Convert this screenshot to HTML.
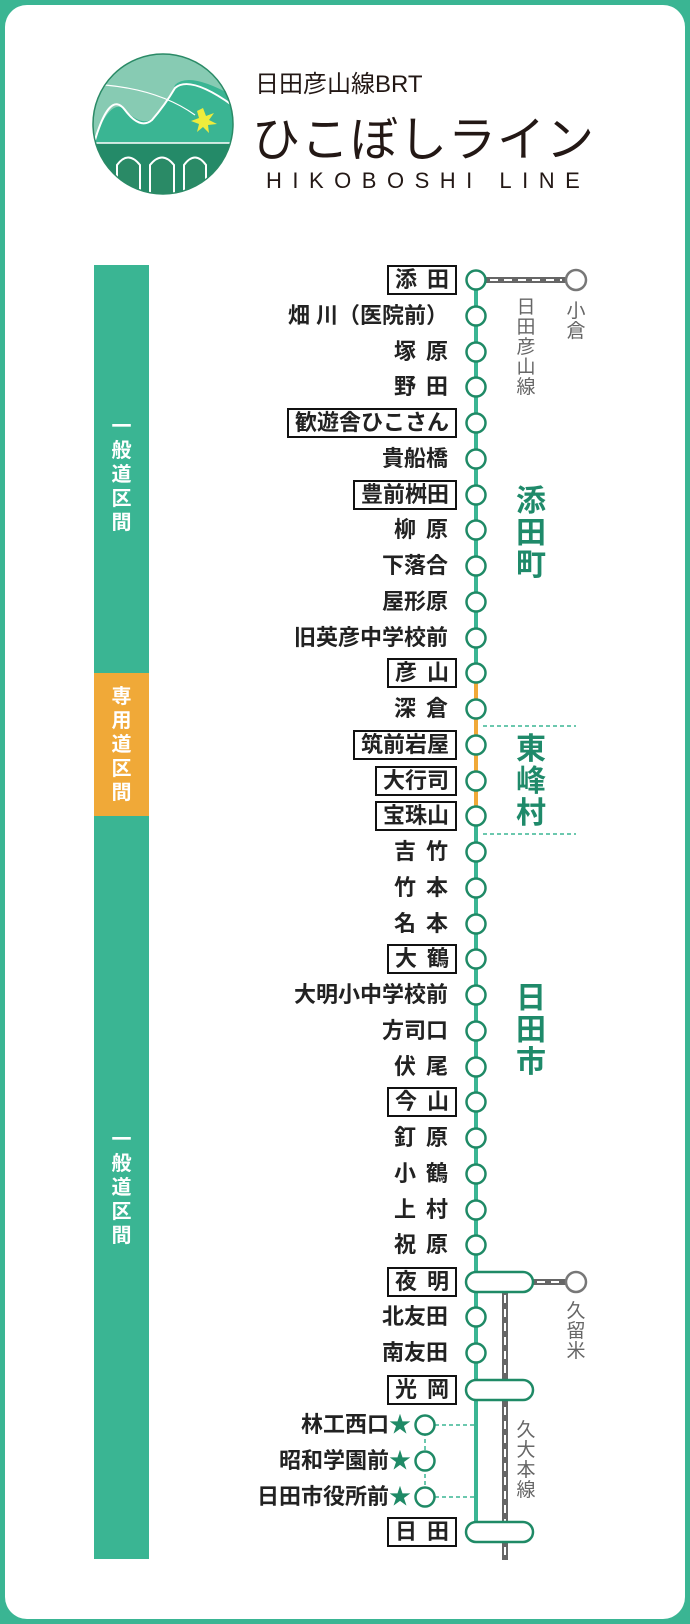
<!DOCTYPE html>
<html><head><meta charset="utf-8"><style>
*{margin:0;padding:0;box-sizing:border-box}
body{width:690px;height:1624px;background:#3ab593;position:relative;overflow:hidden;font-family:"Liberation Sans","Noto Sans CJK JP",sans-serif}
.card{position:absolute;left:5px;top:5px;width:680px;height:1614px;background:#fff;border-radius:22px}
.lbl{position:absolute;right:242px;height:30px;line-height:30px;font-size:22px;font-weight:bold;color:#222;white-space:nowrap;text-align:right}
.box{border:2px solid #111;padding:0 6px;line-height:26px;right:233px}
.sp{letter-spacing:10px;margin-right:-10px}
.area{position:absolute;color:#1f8a6a;font-size:30px;font-weight:bold;width:36px;line-height:32px;text-align:center}
.vg{position:absolute;color:#666;font-size:19px;width:22px;line-height:20px;text-align:center}
.bar{position:absolute;left:94px;width:55px;color:#fff;font-size:20px;font-weight:bold;text-align:center;line-height:24px}
</style></head><body>
<div class="card"></div>
<svg width="690" height="1624" style="position:absolute;left:0;top:0">
<defs><clipPath id="c"><circle cx="163" cy="124" r="70"/></clipPath></defs>
<g clip-path="url(#c)">
<rect x="90" y="50" width="150" height="150" fill="#87cbb3"/>
<path d="M90 150 Q110 95 125 110 Q140 125 150 120 Q165 110 175 85 Q190 70 240 100 L240 200 L90 200Z" fill="#3ab593"/>
<path d="M95 140 Q110 90 125 110 Q140 130 152 120 Q165 105 175 88 Q190 75 232 105" fill="none" stroke="#fff" stroke-width="2"/>
<path d="M105 85 Q160 90 195 115" fill="none" stroke="#fff" stroke-width="1.2"/>
<rect x="90" y="143" width="150" height="60" fill="#248a68"/>
<line x1="90" y1="143" x2="240" y2="143" stroke="#fff" stroke-width="1.5"/>
<path d="M117 200 V165 Q128 150 140 165 V200 M150 200 V165 Q162 150 174 165 V200 M184 200 V165 Q195 150 206 165 V200" fill="#2a8a66" stroke="#fff" stroke-width="2"/>
</g>
<circle cx="163" cy="124" r="70" fill="none" stroke="#2a8a66" stroke-width="1.5"/>
<polygon points="203,108 206,116 214,113 209,120 217,124 208,125 209,133 203,127 197,132 199,124 191,121 199,118 197,111" fill="#eeec3c"/>
<line x1="476" y1="280" x2="476" y2="673" stroke="#3ab593" stroke-width="4"/>
<line x1="476" y1="673" x2="476" y2="815" stroke="#f0a938" stroke-width="4"/>
<line x1="476" y1="815" x2="476" y2="1532" stroke="#3ab593" stroke-width="4"/>
<line x1="505" y1="1292" x2="505" y2="1560" stroke="#666" stroke-width="6"/>
<line x1="505" y1="1295" x2="505" y2="1557" stroke="#fff" stroke-width="2" stroke-dasharray="8,6"/>
<line x1="486" y1="280" x2="566" y2="280" stroke="#666" stroke-width="6"/>
<line x1="490" y1="280" x2="562" y2="280" stroke="#fff" stroke-width="2" stroke-dasharray="8,6"/>
<circle cx="576" cy="280" r="10" fill="#fff" stroke="#777" stroke-width="2.5"/>
<line x1="533" y1="1282" x2="566" y2="1282" stroke="#666" stroke-width="6"/>
<line x1="537" y1="1282" x2="562" y2="1282" stroke="#fff" stroke-width="2" stroke-dasharray="8,6"/>
<circle cx="576" cy="1282" r="10" fill="#fff" stroke="#777" stroke-width="2.5"/>
<line x1="483" y1="726" x2="576" y2="726" stroke="#3ab593" stroke-width="1.5" stroke-dasharray="4,3"/>
<line x1="483" y1="834" x2="576" y2="834" stroke="#3ab593" stroke-width="1.5" stroke-dasharray="4,3"/>
<line x1="435" y1="1425" x2="474" y2="1425" stroke="#3ab593" stroke-width="1.5" stroke-dasharray="4,3"/>
<line x1="435" y1="1497" x2="474" y2="1497" stroke="#3ab593" stroke-width="1.5" stroke-dasharray="4,3"/>
<line x1="425" y1="1425" x2="425" y2="1497" stroke="#3ab593" stroke-width="1.5" stroke-dasharray="4,3"/>
<g fill="#fff" stroke="#1f8a66" stroke-width="2.5">
<circle cx="425" cy="1425" r="9.5"/><circle cx="425" cy="1461" r="9.5"/><circle cx="425" cy="1497" r="9.5"/>
<rect x="466" y="1272" width="67" height="20" rx="10"/>
<rect x="466" y="1380" width="67" height="20" rx="10"/>
<rect x="466" y="1522" width="67" height="20" rx="10"/>
<circle cx="476" cy="280" r="9.5"/><circle cx="476" cy="316" r="9.5"/><circle cx="476" cy="352" r="9.5"/><circle cx="476" cy="387" r="9.5"/><circle cx="476" cy="423" r="9.5"/><circle cx="476" cy="459" r="9.5"/><circle cx="476" cy="495" r="9.5"/><circle cx="476" cy="530" r="9.5"/><circle cx="476" cy="566" r="9.5"/><circle cx="476" cy="602" r="9.5"/><circle cx="476" cy="638" r="9.5"/><circle cx="476" cy="673" r="9.5"/><circle cx="476" cy="709" r="9.5"/><circle cx="476" cy="745" r="9.5"/><circle cx="476" cy="781" r="9.5"/><circle cx="476" cy="816" r="9.5"/><circle cx="476" cy="852" r="9.5"/><circle cx="476" cy="888" r="9.5"/><circle cx="476" cy="924" r="9.5"/><circle cx="476" cy="959" r="9.5"/><circle cx="476" cy="995" r="9.5"/><circle cx="476" cy="1031" r="9.5"/><circle cx="476" cy="1067" r="9.5"/><circle cx="476" cy="1102" r="9.5"/><circle cx="476" cy="1138" r="9.5"/><circle cx="476" cy="1174" r="9.5"/><circle cx="476" cy="1210" r="9.5"/><circle cx="476" cy="1245" r="9.5"/><circle cx="476" cy="1317" r="9.5"/><circle cx="476" cy="1353" r="9.5"/>
</g>
</svg>
<div style="position:absolute;left:255px;top:64px;font-size:24px;color:#231815;white-space:nowrap">日田彦山線BRT</div>
<div style="position:absolute;left:252px;top:100px;font-size:48px;color:#231815;white-space:nowrap;letter-spacing:1px">ひこぼしライン</div>
<div style="position:absolute;left:266px;top:168px;font-size:22px;color:#231815;white-space:nowrap;letter-spacing:10.5px">HIKOBOSHI LINE</div>
<div class="bar" style="top:265px;height:408px;background:#3ab593;padding-top:150px">一<br>般<br>道<br>区<br>間</div>
<div class="bar" style="top:673px;height:143px;background:#f0a938;padding-top:12px">専<br>用<br>道<br>区<br>間</div>
<div class="bar" style="top:816px;height:743px;background:#3ab593;padding-top:312px">一<br>般<br>道<br>区<br>間</div>
<div class="area" style="left:513px;top:486px">添<br>田<br>町</div>
<div class="area" style="left:513px;top:734px">東<br>峰<br>村</div>
<div class="area" style="left:513px;top:983px">日<br>田<br>市</div>
<div class="vg" style="left:515px;top:298px">日<br>田<br>彦<br>山<br>線</div>
<div class="vg" style="left:565px;top:302px">小<br>倉</div>
<div class="vg" style="left:565px;top:1302px">久<br>留<br>米</div>
<div class="vg" style="left:515px;top:1421px">久<br>大<br>本<br>線</div>
<div class="lbl box" style="top:265px"><span class="sp">添田</span></div>
<div class="lbl" style="top:301px">畑 川（医院前）</div>
<div class="lbl" style="top:337px"><span class="sp">塚原</span></div>
<div class="lbl" style="top:372px"><span class="sp">野田</span></div>
<div class="lbl box" style="top:408px">歓遊舎ひこさん</div>
<div class="lbl" style="top:444px">貴船橋</div>
<div class="lbl box" style="top:480px">豊前桝田</div>
<div class="lbl" style="top:515px"><span class="sp">柳原</span></div>
<div class="lbl" style="top:551px">下落合</div>
<div class="lbl" style="top:587px">屋形原</div>
<div class="lbl" style="top:623px">旧英彦中学校前</div>
<div class="lbl box" style="top:658px"><span class="sp">彦山</span></div>
<div class="lbl" style="top:694px"><span class="sp">深倉</span></div>
<div class="lbl box" style="top:730px">筑前岩屋</div>
<div class="lbl box" style="top:766px">大行司</div>
<div class="lbl box" style="top:801px">宝珠山</div>
<div class="lbl" style="top:837px"><span class="sp">吉竹</span></div>
<div class="lbl" style="top:873px"><span class="sp">竹本</span></div>
<div class="lbl" style="top:909px"><span class="sp">名本</span></div>
<div class="lbl box" style="top:944px"><span class="sp">大鶴</span></div>
<div class="lbl" style="top:980px">大明小中学校前</div>
<div class="lbl" style="top:1016px">方司口</div>
<div class="lbl" style="top:1052px"><span class="sp">伏尾</span></div>
<div class="lbl box" style="top:1087px"><span class="sp">今山</span></div>
<div class="lbl" style="top:1123px"><span class="sp">釘原</span></div>
<div class="lbl" style="top:1159px"><span class="sp">小鶴</span></div>
<div class="lbl" style="top:1195px"><span class="sp">上村</span></div>
<div class="lbl" style="top:1230px"><span class="sp">祝原</span></div>
<div class="lbl box" style="top:1267px"><span class="sp">夜明</span></div>
<div class="lbl" style="top:1302px">北友田</div>
<div class="lbl" style="top:1338px">南友田</div>
<div class="lbl box" style="top:1375px"><span class="sp">光岡</span></div>
<div class="lbl" style="top:1410px;right:279px">林工西口<span style="color:#1f8a66">★</span></div>
<div class="lbl" style="top:1446px;right:279px">昭和学園前<span style="color:#1f8a66">★</span></div>
<div class="lbl" style="top:1482px;right:279px">日田市役所前<span style="color:#1f8a66">★</span></div>
<div class="lbl box" style="top:1517px"><span class="sp">日田</span></div>
</body></html>
